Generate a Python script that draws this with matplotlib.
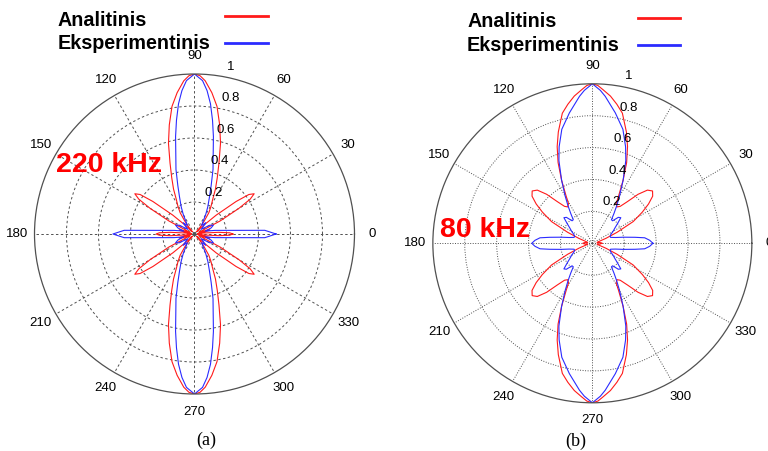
import numpy as np
import matplotlib.pyplot as plt
from matplotlib.lines import Line2D

plt.rcParams['font.family'] = ['Liberation Sans', 'DejaVu Sans']

# kryptingumo diagramos: vienas ketvirtis (0..90 laipsniu), likusi dalis - veidrodine
# 220 kHz, analitinis
ang_a_an = [0, 2, 4, 6, 8, 11, 14, 17, 20, 23, 27, 30, 32, 34, 36, 38, 41, 44, 47,
            50, 53, 56, 59, 62, 65, 68, 71, 74, 77, 80, 83, 86, 88, 90]
r_a_an = [0.24, 0.22, 0.15, 0.06, 0.02, 0.06, 0.10, 0.09, 0.03, 0.04, 0.18, 0.32, 0.41,
          0.45, 0.42, 0.33, 0.18, 0.07, 0.02, 0.05, 0.10, 0.16, 0.20, 0.24, 0.31, 0.38,
          0.47, 0.59, 0.70, 0.81, 0.89, 0.96, 0.99, 1.00]
# 220 kHz, eksperimentinis
ang_a_ex = [0, 3, 10, 15, 20, 25, 30, 35, 40, 45, 50, 55, 60, 64, 68, 71, 74, 77, 79,
            81, 83, 85, 87, 90]
r_a_ex = [0.51, 0.44, 0.13, 0.07, 0.11, 0.13, 0.11, 0.05, 0.07, 0.10, 0.07, 0.09, 0.14,
          0.19, 0.25, 0.32, 0.42, 0.52, 0.62, 0.72, 0.82, 0.90, 0.96, 1.00]
# 80 kHz, analitinis
ang_b_an = [0, 5, 10, 15, 20, 24, 28, 32, 35, 38, 41, 44, 47, 50, 53, 56, 59, 61, 64,
            67, 70, 73, 77, 80, 83, 86, 88, 90]
r_b_an = [0.06, 0.05, 0.03, 0.04, 0.09, 0.17, 0.29, 0.37, 0.43, 0.48, 0.50, 0.48, 0.42,
          0.34, 0.29, 0.275, 0.29, 0.34, 0.44, 0.55, 0.645, 0.73, 0.837, 0.885, 0.93,
          0.965, 0.99, 1.00]
# 80 kHz, eksperimentinis
ang_b_ex = [0, 3, 6, 8, 11, 14, 18, 22, 26, 30, 34, 38, 42, 45, 48, 51, 54, 57, 60, 64,
            68, 71, 75, 80, 85, 87, 90]
r_b_ex = [0.38, 0.36, 0.33, 0.27, 0.20, 0.15, 0.12, 0.12, 0.13, 0.15, 0.17, 0.20, 0.24,
          0.23, 0.19, 0.19, 0.23, 0.28, 0.34, 0.44, 0.56, 0.64, 0.74, 0.83, 0.925, 0.96,
          1.00]

theta_ticks = list(range(0, 360, 30))
r_ticks = [0.2, 0.4, 0.6, 0.8]
r_labels = ['0.2', '0.4', '0.6', '0.8', '1']
series_names = ['Analitinis', 'Eksperimentinis']

RED = '#ff1a1a'
BLUE = '#2b2bff'
W, H = 768, 451


def full_turn(ang, r):
    ang = np.asarray(ang, float)
    r = np.asarray(r, float)
    a = np.concatenate([ang, 180 - ang[::-1], 180 + ang, 360 - ang[::-1]])
    rr = np.concatenate([r, r[::-1], r, r[::-1]])
    return np.radians(a), rr


def polar_panel(fig, rect, an, ex, grid_ls):
    ax = fig.add_axes(rect, projection='polar')
    ax.set_ylim(0, 1)
    ax.set_xticks(np.radians(theta_ticks))
    ax.set_xticklabels([])
    ax.set_yticks(r_ticks)
    ax.set_yticklabels([])
    ax.grid(True, color='#505050', linestyle=grid_ls, linewidth=0.7)
    ax.spines['polar'].set_color('#505050')
    ax.spines['polar'].set_linewidth(0.9)

    t, r = full_turn(*an)
    ax.plot(t, r, color=RED, lw=0.8)
    t, r = full_turn(*ex)
    ax.plot(t, r, color=BLUE, lw=0.8)

    for d in theta_ticks:
        ax.text(np.radians(d), 1.11, str(d), ha='center', va='center',
                fontsize=9.5, clip_on=False)
    for v, s in zip(r_ticks + [1.0], r_labels):
        ax.annotate(s, xy=(np.radians(80), v), xytext=(3.5, 7),
                    textcoords='offset points', ha='left', va='center',
                    fontsize=9.5, annotation_clip=False)
    return ax


def key(fig, x_text, baselines, x_line, y_lines):
    # pavadinimas kaireje, linijos pavyzdys desineje
    for name, yb, yl, c in zip(series_names, baselines, y_lines, [RED, BLUE]):
        fig.text(x_text / W, 1 - yb / H, name, fontsize=14.2, fontweight='bold',
                 ha='left', va='baseline')
        fig.add_artist(Line2D([x_line[0] / W, x_line[1] / W], [1 - yl / H, 1 - yl / H],
                              color=c, lw=2, transform=fig.transFigure))


fig = plt.figure(figsize=(7.68, 4.51), dpi=100)

polar_panel(fig, [0.0449, 0.1264, 0.4167, 0.7095],
            (ang_a_an, r_a_an), (ang_a_ex, r_a_ex), (0, (2.5, 2.5)))
polar_panel(fig, [0.5636, 0.1069, 0.4154, 0.7073],
            (ang_b_an, r_b_an), (ang_b_ex, r_b_ex), (0, (1, 1.6)))

key(fig, 58, [26.2, 48.8], (225, 268), [15.5, 42.5])
key(fig, 467, [27, 51.2], (638, 680), [17.7, 45])

fig.text(56 / W, 1 - 171.7 / H, '220 kHz', color='red', fontsize=20.5,
         fontweight='bold', ha='left', va='baseline')
fig.text(440 / W, 1 - 237.3 / H, '80 kHz', color='red', fontsize=20.5,
         fontweight='bold', ha='left', va='baseline')

fig.text(206 / W, 1 - 440 / H, '(a)', family=['Liberation Serif', 'DejaVu Serif'],
         fontsize=13, ha='center', va='center')
fig.text(576 / W, 1 - 441 / H, '(b)', family=['Liberation Serif', 'DejaVu Serif'],
         fontsize=13, ha='center', va='center')

fig.savefig('out.png', dpi=100)
